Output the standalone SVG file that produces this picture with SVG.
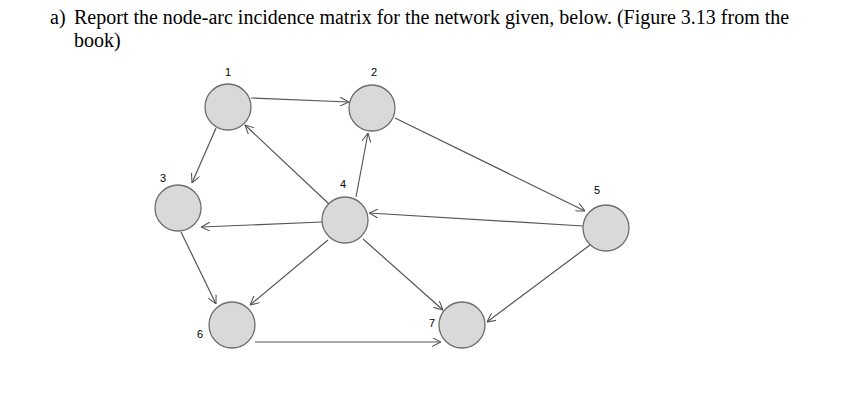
<svg xmlns="http://www.w3.org/2000/svg" width="847" height="416" viewBox="0 0 847 416">
<style>
.t{font-family:"Liberation Serif",serif;font-size:20px;fill:#000}
.l{font-family:"Liberation Sans",sans-serif;font-size:11px;fill:#000;text-anchor:middle}
.n{fill:#d9d9d9;stroke:#6e6e6e;stroke-width:1.3}
.e{stroke:#555;stroke-width:1.2;fill:none;marker-end:url(#a)}
</style>
<defs><marker id="a" viewBox="0 0 10 10" refX="10" refY="5" markerWidth="9" markerHeight="9" orient="auto" markerUnits="userSpaceOnUse"><path d="M0,0 L10,5 L0,10" fill="none" stroke="#555" stroke-width="1.2"/></marker></defs>
<rect width="847" height="416" fill="#fff"/>
<text class="t" x="50" y="24">a)</text>
<text class="t" x="74" y="24">Report the node-arc incidence matrix for the network given, below. (Figure 3.13 from the</text>
<text class="t" x="74" y="47">book)</text>
<g id="connectors">
<line class="e" x1="251" y1="98" x2="349" y2="102"/>
<line class="e" x1="395" y1="118" x2="585" y2="211"/>
<line class="e" x1="216" y1="128" x2="192" y2="183"/>
<line class="e" x1="329" y1="204" x2="245" y2="125"/>
<line class="e" x1="356" y1="197" x2="368" y2="133"/>
<line class="e" x1="322" y1="222" x2="201" y2="227"/>
<line class="e" x1="583" y1="226" x2="369" y2="213"/>
<line class="e" x1="181" y1="232" x2="216" y2="304"/>
<line class="e" x1="328" y1="240" x2="250" y2="305"/>
<line class="e" x1="363" y1="239" x2="443" y2="310"/>
<line class="e" x1="590" y1="245" x2="487" y2="322"/>
<line class="e" x1="255" y1="342" x2="441" y2="342"/>
</g>
<g id="n1"><circle class="n" cx="228" cy="107" r="23"/><text class="l" x="228" y="76">1</text></g>
<g id="n2"><circle class="n" cx="372" cy="108" r="23"/><text class="l" x="374" y="76">2</text></g>
<g id="n3"><circle class="n" cx="178" cy="208" r="23"/><text class="l" x="163" y="182">3</text></g>
<g id="n4"><circle class="n" cx="345" cy="220" r="23"/><text class="l" x="343" y="188">4</text></g>
<g id="n5"><circle class="n" cx="606" cy="228" r="23"/><text class="l" x="597" y="194">5</text></g>
<g id="n6"><circle class="n" cx="232" cy="325" r="23"/><text class="l" x="200" y="338">6</text></g>
<g id="n7"><circle class="n" cx="462" cy="325" r="23"/><text class="l" x="432" y="327">7</text></g>
</svg>
